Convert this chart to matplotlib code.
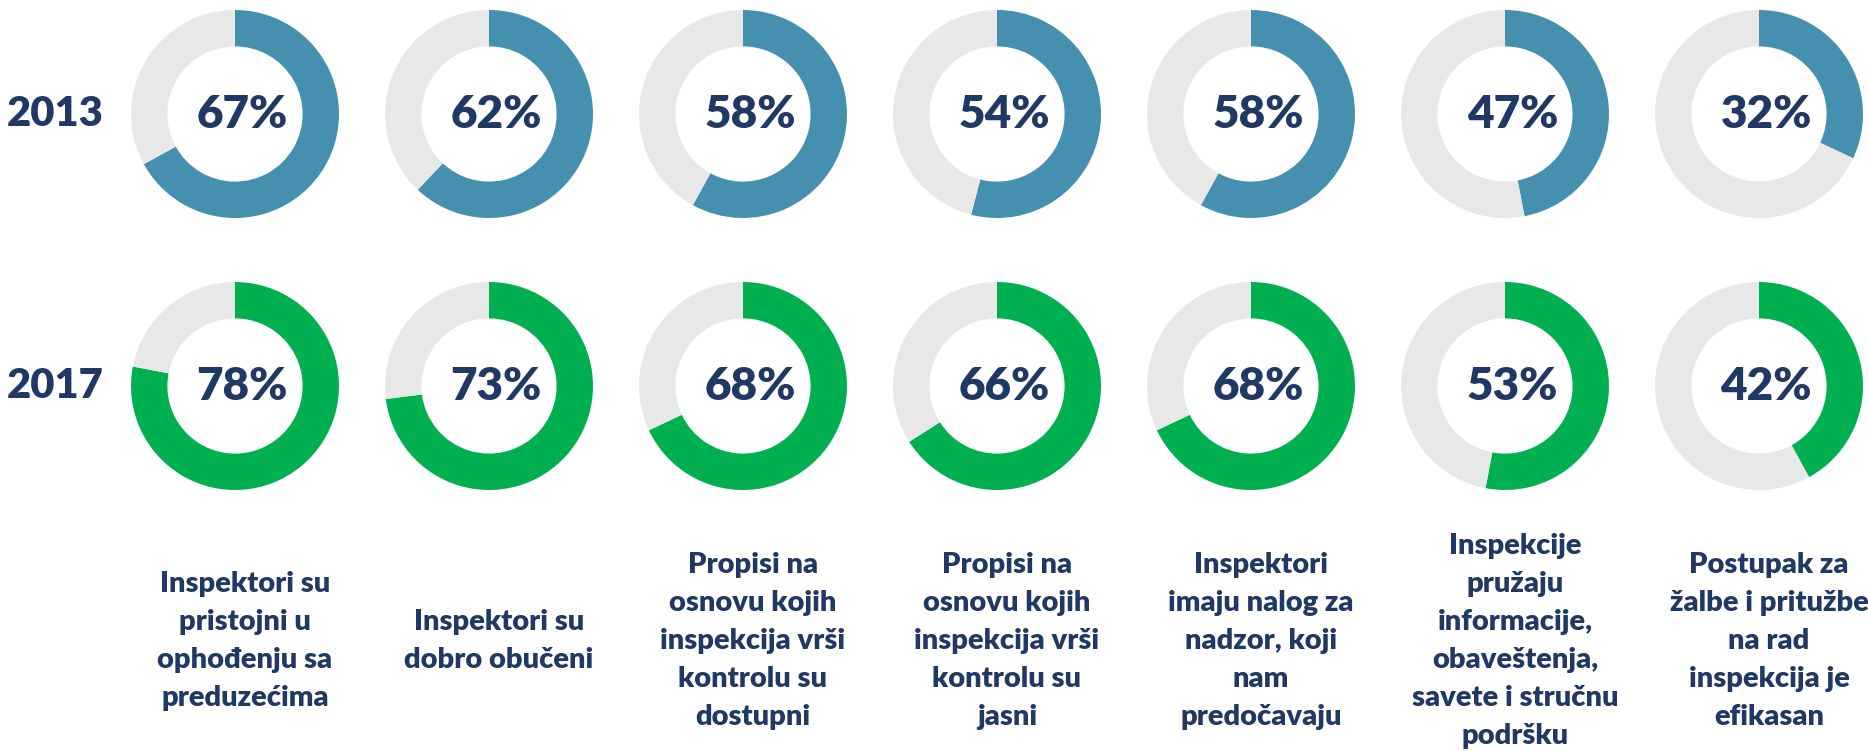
import matplotlib
matplotlib.use("Agg")
import matplotlib.pyplot as plt

plt.rcParams['font.family'] = ['Lato', 'DejaVu Sans']

years = ['2013', '2017']
vals_2013 = [67, 62, 58, 54, 58, 47, 32]
vals_2017 = [78, 73, 68, 66, 68, 53, 42]
labels = [
    'Inspektori su\npristojni u\nophođenju sa\npreduzećima',
    'Inspektori su\ndobro obučeni',
    'Propisi na\nosnovu kojih\ninspekcija vrši\nkontrolu su\ndostupni',
    'Propisi na\nosnovu kojih\ninspekcija vrši\nkontrolu su\njasni',
    'Inspektori\nimaju nalog za\nnadzor, koji\nnam\npredočavaju',
    'Inspekcije\npružaju\ninformacije,\nobaveštenja,\nsavete i stručnu\npodršku',
    'Postupak za\nžalbe i pritužbe\nna rad\ninspekcija je\nefikasan',
]

colors = {'2013': '#4490AE', '2017': '#00B050'}
grey = '#E8E8E8'
navy = '#1F3864'
wt = 'heavy'

W, H = 1868, 751
fig = plt.figure(figsize=(W / 100, H / 100), dpi=100)

x0, dx = 235, 254          # donut centres in pixels
row_y = [114, 386]
r = 104

for row, (yr, vals) in enumerate(zip(years, [vals_2013, vals_2017])):
    cy = row_y[row]
    fig.text(55 / W, 1 - cy / H, yr, ha='center', va='center',
             fontsize=30, color=navy, fontweight=wt)
    for i, v in enumerate(vals):
        cx = x0 + dx * i
        ax = fig.add_axes([(cx - r) / W, 1 - (cy + r) / H, 2 * r / W, 2 * r / H])
        ax.pie([v, 100 - v], colors=[colors[yr], grey], startangle=90,
               counterclock=False, radius=1,
               wedgeprops=dict(width=0.35, linewidth=0))
        ax.set_xlim(-1, 1)
        ax.set_ylim(-1, 1)
        ax.set_aspect('equal')
        ax.axis('off')
        ax.text(0.07, 0, f'{v}%', ha='center', va='center', fontsize=33,
                color=navy, fontweight=wt)

for i, lab in enumerate(labels):
    cx = x0 + dx * i + 10
    fig.text(cx / W, 1 - 641 / H, lab, ha='center', va='center',
             fontsize=21, color=navy, fontweight=wt, linespacing=1.58,
             multialignment='center')

fig.savefig('out.png', dpi=100, facecolor='white')
